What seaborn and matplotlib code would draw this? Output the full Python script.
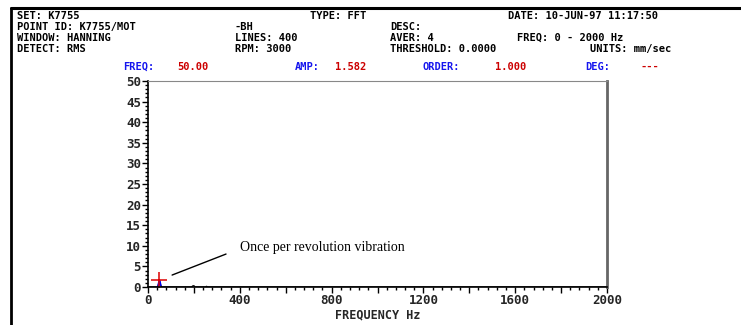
import matplotlib
matplotlib.use("Agg")
import matplotlib.pyplot as plt
import seaborn as sns
import pandas as pd
from matplotlib.lines import Line2D
from matplotlib.ticker import MultipleLocator, FuncFormatter

# ---- data ----
freq_hz = [0, 40, 45, 50, 55, 60, 190, 195, 200, 205, 250, 255, 260, 2000]
amp_mm_s = [0.0, 0.0, 0.4, 1.582, 0.4, 0.0, 0.0, 0.25, 0.3, 0.0, 0.0, 0.15, 0.0, 0.0]
spike_freq = [45, 50, 55]
spike_amp = [0.4, 1.582, 0.4]
cursor_freq = [50.0]
cursor_amp = [1.582]
x_ticks_labeled = [0, 400, 800, 1200, 1600, 2000]
y_ticks = [0, 5, 10, 15, 20, 25, 30, 35, 40, 45, 50]

header_rows = [
    [("SET: K7755", 17), ("TYPE: FFT", 310), ("DATE: 10-JUN-97 11:17:50", 508)],
    [("POINT ID: K7755/MOT", 17), ("-BH", 235), ("DESC:", 390)],
    [("WINDOW: HANNING", 17), ("LINES: 400", 235), ("AVER: 4", 390), ("FREQ: 0 - 2000 Hz", 517)],
    [("DETECT: RMS", 17), ("RPM: 3000", 235), ("THRESHOLD: 0.0000", 390), ("UNITS: mm/sec", 590)],
]
cursor_labels = [("FREQ:", 123, "blue"), ("50.00", 177, "red"),
                 ("AMP:", 295, "blue"), ("1.582", 335, "red"),
                 ("ORDER:", 423, "blue"), ("1.000", 495, "red"),
                 ("DEG:", 585, "blue"), ("---", 640, "red")]
annotation_text = "Once per revolution vibration"

W, H = 741, 325
sns.set_style("white")
plt.rcParams['font.family'] = ['DejaVu Sans Mono', 'DejaVu Sans']

fig = plt.figure(figsize=(W / 100, H / 100), dpi=100)
ax = fig.add_axes([148 / W, 1 - 287 / H, (607 - 148) / W, (287 - 81) / H])

df = pd.DataFrame({"f": freq_hz, "a": amp_mm_s})
sns.lineplot(data=df, x="f", y="a", ax=ax, color="black", linewidth=1, estimator=None)
dspk = pd.DataFrame({"f": spike_freq, "a": spike_amp})
sns.lineplot(data=dspk, x="f", y="a", ax=ax, color="#0000ee", linewidth=1.5, estimator=None)
ax.plot(cursor_freq, cursor_amp, marker="+", color="#dd0000", markersize=11, mew=1.1, linestyle="none")

ax.set_xlim(0, 2000)
ax.set_ylim(0, 50)
ax.xaxis.set_major_locator(MultipleLocator(200))
ax.xaxis.set_minor_locator(MultipleLocator(40))
ax.xaxis.set_major_formatter(FuncFormatter(lambda v, p: f"{int(v)}" if int(round(v)) in x_ticks_labeled else ""))
ax.set_yticks(y_ticks)
ax.yaxis.set_minor_locator(MultipleLocator(1))
ax.tick_params(axis="both", which="major", direction="out", length=4, width=1, color="black",
               labelsize=9, pad=1)
ax.tick_params(axis="both", which="minor", direction="out", length=2, width=1, color="black")
ax.tick_params(left=True, bottom=True, which="both")
for lab in ax.get_xticklabels() + ax.get_yticklabels():
    lab.set_fontweight("bold")
ax.set_xlabel("FREQUENCY Hz", fontsize=8.5, fontweight="bold", labelpad=1)
ax.set_ylabel("")

for s in ["left", "bottom"]:
    ax.spines[s].set_color("black")
    ax.spines[s].set_linewidth(1.2)
ax.spines["top"].set_color("#888888")
ax.spines["top"].set_linewidth(0.8)
ax.spines["right"].set_color("#666666")
ax.spines["right"].set_linewidth(2)

# annotation
ax.annotate("", xy=(105, 2.9), xytext=(340, 8.0),
            arrowprops=dict(arrowstyle="-", color="black", lw=1, shrinkA=0, shrinkB=0))
ax.text(403, 9.6, annotation_text, family=["Liberation Serif"], fontsize=10,
        va="center", ha="left", color="black")

# header text
row_y = [16, 27, 38, 49]
for row, yp in zip(header_rows, row_y):
    for txt, xp in row:
        fig.text(xp / W, 1 - yp / H, txt, fontsize=7.5, fontweight="bold",
                 va="center", ha="left", color="black")
for txt, xp, col in cursor_labels:
    fig.text(xp / W, 1 - 67 / H, txt, fontsize=7.5, fontweight="bold", va="center", ha="left",
             color="#1515ee" if col == "blue" else "#cc0000")

# outer frame
fig.add_artist(Line2D([11 / W, 1], [1 - 8 / H, 1 - 8 / H], transform=fig.transFigure,
                      color="black", linewidth=2.2))
fig.add_artist(Line2D([11 / W, 11 / W], [0, 1 - 8 / H], transform=fig.transFigure,
                      color="black", linewidth=2))

fig.savefig("out.png", dpi=100)
